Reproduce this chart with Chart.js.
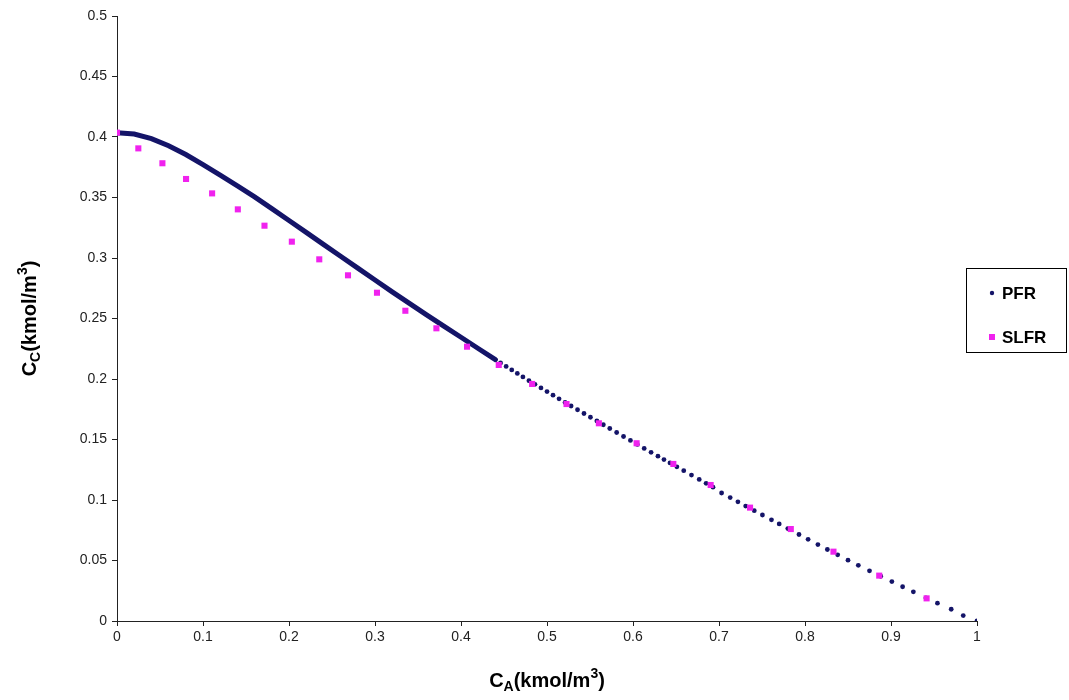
<!DOCTYPE html>
<html>
<head>
<meta charset="utf-8">
<title>PFR vs SLFR</title>
<script src="https://cdn.jsdelivr.net/npm/chart.js@4.4.1/dist/chart.umd.min.js"></script>
<style>
  html, body { margin: 0; padding: 0; background: #fff; }
</style>
</head>
<body>
<canvas id="chart" width="1069" height="700"></canvas>
<script>
// PFR: dense part, dots merge into a thick line
const pfrLineX = [0, 0.02, 0.04, 0.06, 0.08, 0.10, 0.12, 0.14, 0.16, 0.18, 0.20, 0.22,
  0.24, 0.26, 0.28, 0.30, 0.32, 0.34, 0.36, 0.38, 0.40, 0.42, 0.44];
const pfrLineY = [0.4036, 0.4024, 0.3987, 0.3928, 0.3855, 0.3772, 0.3684, 0.3596, 0.3505, 0.3408, 0.3310, 0.3212,
  0.3113, 0.3015, 0.2916, 0.2818, 0.2720, 0.2625, 0.2530, 0.2437, 0.2345, 0.2252, 0.2160];

// PFR: separate dots
const pfrDotX = [0.446, 0.4525, 0.459, 0.4655, 0.472, 0.479, 0.486, 0.493, 0.500, 0.507, 0.514, 0.521,
  0.528, 0.5355, 0.543, 0.5505, 0.558, 0.5655, 0.573, 0.581, 0.589, 0.597, 0.605, 0.613, 0.621,
  0.629, 0.636, 0.643, 0.651, 0.659, 0.668, 0.677, 0.685, 0.693, 0.703, 0.713, 0.722, 0.731, 0.741,
  0.7505, 0.761, 0.770, 0.780, 0.793, 0.8036, 0.815, 0.826, 0.838, 0.850, 0.862, 0.875, 0.888,
  0.901, 0.9135, 0.926, 0.9406, 0.954, 0.970, 0.984, 1.0];
const pfrDotY = [0.2133, 0.2104, 0.2075, 0.2046, 0.2017, 0.1986, 0.1956, 0.1926, 0.1896, 0.1866, 0.1836, 0.1806,
  0.1777, 0.1746, 0.1715, 0.1684, 0.1653, 0.1622, 0.1591, 0.1558, 0.1525, 0.1492, 0.1459, 0.1426, 0.1394,
  0.1362, 0.1334, 0.1306, 0.1274, 0.1242, 0.1206, 0.1170, 0.1138, 0.1106, 0.1058, 0.1020, 0.0985, 0.0950, 0.0912,
  0.0876, 0.0836, 0.0802, 0.0764, 0.0715, 0.0675, 0.0632, 0.0591, 0.0547, 0.0503, 0.0460, 0.0415, 0.0370,
  0.0326, 0.0283, 0.0241, 0.0191, 0.0147, 0.0097, 0.0045, 0.0];

// SLFR
const slfrX = [0, 0.0248, 0.0528, 0.0803, 0.1106, 0.1405, 0.1715, 0.2033, 0.2352, 0.2686, 0.3023, 0.3353,
  0.3714, 0.407, 0.4439, 0.4827, 0.5227, 0.5603, 0.6042, 0.6469, 0.6903, 0.7361, 0.7835, 0.8331, 0.8863, 0.9414];
const slfrY = [0.4036, 0.3906, 0.3783, 0.3653, 0.3534, 0.3402, 0.3267, 0.3135, 0.2989, 0.2857, 0.2713, 0.2564,
  0.2419, 0.2267, 0.2116, 0.1959, 0.1793, 0.1634, 0.1469, 0.1298, 0.1124, 0.0937, 0.076, 0.0573, 0.0375, 0.0187];

const xTickLabels = ['0', '0.1', '0.2', '0.3', '0.4', '0.5', '0.6', '0.7', '0.8', '0.9', '1'];
const yTickLabels = ['0', '0.05', '0.1', '0.15', '0.2', '0.25', '0.3', '0.35', '0.4', '0.45', '0.5'];

const seriesNames = ['PFR', 'SLFR'];
const xTitleParts = [{ t: 'C' }, { t: 'A', sub: true }, { t: '(kmol/m' }, { t: '3', sup: true }, { t: ')' }];
const yTitleParts = [{ t: 'C' }, { t: 'C', sub: true }, { t: '(kmol/m' }, { t: '3', sup: true }, { t: ')' }];

const NAVY = '#141468';
const PINK = '#f022ee';
const FONT = 'Arial, "Liberation Sans", sans-serif';

const toPts = (xs, ys) => xs.map((x, i) => ({ x: x, y: ys[i] }));

function drawRich(ctx, parts, size) {
  const small = Math.round(size * 0.68);
  let w = 0;
  parts.forEach(p => {
    ctx.font = 'bold ' + (p.sub || p.sup ? small : size) + 'px ' + FONT;
    p.w = ctx.measureText(p.t).width;
    w += p.w;
  });
  let x = -w / 2;
  parts.forEach(p => {
    ctx.font = 'bold ' + (p.sub || p.sup ? small : size) + 'px ' + FONT;
    const dy = p.sub ? size * 0.3 : (p.sup ? -size * 0.33 : 0);
    ctx.fillText(p.t, x, dy);
    x += p.w;
  });
}

// axis titles with sub/superscripts + boxed legend
const decor = {
  id: 'decor',
  afterDraw(chart) {
    const ctx = chart.ctx;
    const area = chart.chartArea;
    ctx.save();
    ctx.fillStyle = '#000';
    ctx.textBaseline = 'middle';
    ctx.textAlign = 'left';

    ctx.save();
    ctx.translate((area.left + area.right) / 2, 681);
    drawRich(ctx, xTitleParts, 20);
    ctx.restore();

    ctx.save();
    ctx.translate(30, (area.top + area.bottom) / 2);
    ctx.rotate(-Math.PI / 2);
    drawRich(ctx, yTitleParts, 20);
    ctx.restore();

    // legend
    ctx.strokeStyle = '#000';
    ctx.lineWidth = 1;
    ctx.strokeRect(966.5, 268.5, 100, 84);
    ctx.font = 'bold 17px ' + FONT;
    ctx.fillStyle = NAVY;
    ctx.beginPath();
    ctx.arc(992, 293, 2.2, 0, Math.PI * 2);
    ctx.fill();
    ctx.fillStyle = PINK;
    ctx.fillRect(989, 334, 6, 6);
    ctx.fillStyle = '#000';
    ctx.fillText(seriesNames[0], 1002, 294);
    ctx.fillText(seriesNames[1], 1002, 338);
    ctx.restore();
  }
};

new Chart(document.getElementById('chart'), {
  type: 'scatter',
  data: {
    datasets: [
      {
        label: seriesNames[1],
        data: toPts(slfrX, slfrY),
        order: 0,
        pointStyle: 'rect',
        pointRadius: 4.3,
        pointBackgroundColor: PINK,
        pointBorderWidth: 0
      },
      {
        label: seriesNames[0],
        data: toPts(pfrDotX, pfrDotY),
        order: 1,
        pointStyle: 'circle',
        pointRadius: 2.4,
        pointBackgroundColor: NAVY,
        pointBorderWidth: 0
      },
      {
        label: seriesNames[0] + ' (dense)',
        data: toPts(pfrLineX, pfrLineY),
        order: 2,
        showLine: true,
        borderColor: NAVY,
        borderWidth: 5,
        borderCapStyle: 'round',
        pointRadius: 0
      }
    ]
  },
  options: {
    responsive: false,
    animation: false,
    layout: { padding: { left: 0, top: 16, right: 92, bottom: 0 } },
    plugins: {
      legend: { display: false },
      tooltip: { enabled: false }
    },
    scales: {
      x: {
        type: 'linear',
        min: 0, max: 1,
        afterFit: s => { s.height = 79; },
        grid: { display: true, drawOnChartArea: false, drawTicks: true, tickLength: 5, color: '#222' },
        border: { color: '#222', width: 1 },
        ticks: {
          stepSize: 0.1,
          padding: 3,
          color: '#222',
          font: { family: FONT, size: 14 },
          maxRotation: 0,
          callback: (v, i) => xTickLabels[i]
        }
      },
      y: {
        type: 'linear',
        min: 0, max: 0.5,
        afterFit: s => { s.width = 117; },
        grid: { display: true, drawOnChartArea: false, drawTicks: true, tickLength: 5, color: '#222' },
        border: { color: '#222', width: 1 },
        ticks: {
          stepSize: 0.05,
          padding: 5,
          color: '#222',
          font: { family: FONT, size: 14 },
          callback: (v, i) => yTickLabels[i]
        }
      }
    }
  },
  plugins: [decor]
});
</script>
</body>
</html>
